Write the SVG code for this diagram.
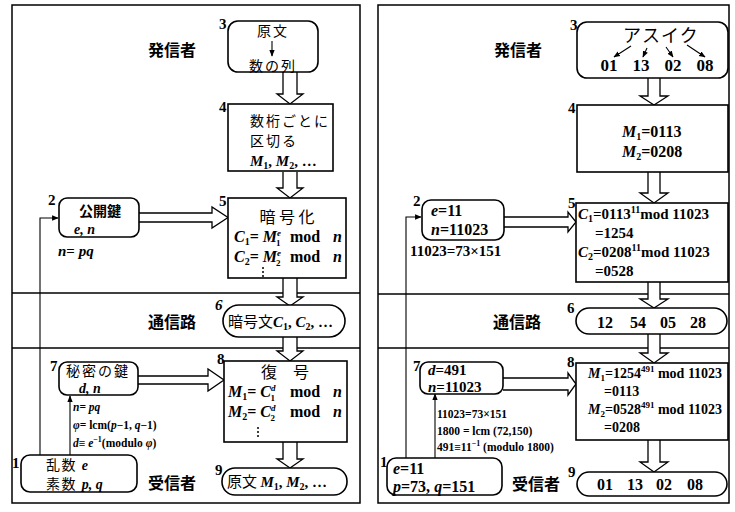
<svg xmlns="http://www.w3.org/2000/svg" width="735" height="512" viewBox="0 0 735 512">
<style>
.frame{fill:none;stroke:#000;stroke-width:1.5}
.div{stroke:#000;stroke-width:1.3}
.box{fill:#fff;stroke:#000;stroke-width:1.6}
.blk{fill:#fff;stroke:#000;stroke-width:1.3;stroke-linejoin:miter}
.thin{fill:none;stroke:#000;stroke-width:1.1}
.jp{font-family:"Noto Sans CJK JP",sans-serif;fill:#000}
.jb{font-family:"Noto Sans CJK JP",sans-serif;font-weight:bold;fill:#000}
.m{font-family:"Liberation Serif",serif;font-weight:bold;fill:#000}
.i{font-style:italic}
.num{font-family:"Liberation Serif",serif;font-weight:bold;font-size:15px;fill:#000}
.sm{font-family:"Liberation Serif",serif;font-weight:bold;font-size:11.5px;fill:#000}
</style>
<defs>
<marker id="ah" viewBox="0 0 10 10" refX="9" refY="5" markerWidth="6" markerHeight="6" orient="auto"><path d="M0,1 L10,5 L0,9 z"/></marker>
</defs>
<rect width="735" height="512" fill="#fff"/>
<g id="frames">
<rect class="frame" x="12" y="5" width="348" height="498"/>
<line class="div" x1="12" y1="293" x2="360" y2="293"/>
<line class="div" x1="12" y1="348" x2="360" y2="348"/>
<rect class="frame" x="378" y="5" width="351" height="498"/>
<line class="div" x1="378" y1="294" x2="729" y2="294"/>
<line class="div" x1="378" y1="348" x2="729" y2="348"/>
</g>
<g id="labels">
<text class="jb" x="148" y="56" font-size="16">発信者</text>
<text class="jb" x="148" y="328" font-size="16">通信路</text>
<text class="jb" x="148" y="489" font-size="16">受信者</text>
<text class="jb" x="494" y="56" font-size="16">発信者</text>
<text class="jb" x="493" y="328" font-size="16">通信路</text>
<text class="jb" x="512" y="490" font-size="16">受信者</text>
</g>
<g id="connectors">
<path class="blk" d="M283,72 V94 H277 L290,104 L303,94 H297 V72"/>
<path class="blk" d="M283,172 V188 H277 L290,198 L303,188 H297 V172"/>
<path class="blk" d="M283,278 V297 H277 L290,306 L303,297 H297 V278"/>
<path class="blk" d="M283,337 V351 H277 L290,361 L303,351 H297 V337"/>
<path class="blk" d="M283,442 V459 H277 L290,468 L303,459 H297 V442"/>
<path class="blk" d="M139,213 H212 V207 L228,217.5 L212,228 V222 H139"/>
<path class="blk" d="M138,376 H208 V369 L224,380 L208,391 V384 H138"/>
<path class="thin" d="M40,455 V218 H58" marker-end="url(#ah)"/>
<path class="thin" d="M70,455 V396" marker-end="url(#ah)"/>
<path class="blk" d="M648,78 V96 H640 L654,105 L668,96 H660 V78"/>
<path class="blk" d="M648,172 V193 H640 L654,203 L668,193 H660 V172"/>
<path class="blk" d="M648,282 V299 H640 L654,308 L668,299 H660 V282"/>
<path class="blk" d="M648,334 V353 H640 L654,363 L668,353 H660 V334"/>
<path class="blk" d="M648,440 V462 H640 L654,472 L668,462 H660 V440"/>
<path class="blk" d="M504,217 H568 V212 L576,222 L568,232 V227 H504"/>
<path class="blk" d="M503,378 H568 V373 L576,384 L568,395 V390 H503"/>
<path class="thin" d="M406,458 V217 H421" marker-end="url(#ah)"/>
<path class="thin" d="M435,458 V394" marker-end="url(#ah)"/>
</g>
<!-- Left panel nodes -->
<g id="L3">
<rect class="box" x="228" y="21" width="90" height="51" rx="10"/>
<text class="num" x="219" y="29">3</text>
<text class="jp" x="273" y="36" font-size="14" letter-spacing="2" text-anchor="middle">原文</text>
<line class="thin" x1="272" y1="41" x2="272" y2="56" marker-end="url(#ah)"/>
<text class="jp" x="273" y="71" font-size="14" letter-spacing="2" text-anchor="middle">数の列</text>
</g>
<g id="L4">
<rect class="box" x="228" y="104" width="105" height="67"/>
<text class="num" x="219" y="112">4</text>
<text class="jp" x="250" y="126" font-size="14" letter-spacing="2">数桁ごとに</text>
<text class="jp" x="250" y="146" font-size="14" letter-spacing="2">区切る</text>
<text class="m" x="250" y="166" font-size="15"><tspan class="i">M</tspan><tspan font-size="10" dy="3">1</tspan><tspan dy="-3">, </tspan><tspan class="i">M</tspan><tspan font-size="10" dy="3">2</tspan><tspan dy="-3">, …</tspan></text>
</g>
<g id="L2">
<rect class="box" x="59" y="198" width="80" height="39" rx="8"/>
<text class="num" x="48" y="205">2</text>
<text class="jb" x="79" y="216" font-size="14">公開鍵</text>
<text class="m i" x="74" y="234" font-size="14">e, n</text>
<text class="m" x="58" y="256" font-size="15"><tspan class="i">n</tspan>= <tspan class="i">pq</tspan></text>
</g>
<g id="L5">
<rect class="box" x="228" y="198" width="118" height="80"/>
<text class="num" x="219" y="206">5</text>
<text class="jp" x="287" y="223" font-size="16" text-anchor="middle">暗 号 化</text>
<text class="m" x="234" y="242" font-size="16"><tspan class="i">C</tspan><tspan font-size="10" dy="3">1</tspan><tspan dy="-3">= </tspan><tspan class="i">M</tspan><tspan font-size="9" class="i" dy="-6">e</tspan><tspan font-size="9" dx="-5" dy="10">1</tspan><tspan dy="-4" x="290">mod</tspan><tspan class="i" x="333">n</tspan></text>
<text class="m" x="234" y="262" font-size="16"><tspan class="i">C</tspan><tspan font-size="10" dy="3">2</tspan><tspan dy="-3">= </tspan><tspan class="i">M</tspan><tspan font-size="9" class="i" dy="-6">e</tspan><tspan font-size="9" dx="-5" dy="10">2</tspan><tspan dy="-4" x="290">mod</tspan><tspan class="i" x="333">n</tspan></text>
<circle cx="263" cy="268" r="1"/><circle cx="263" cy="272" r="1"/><circle cx="263" cy="276" r="1"/>
</g>
<g id="L6">
<rect class="box" x="223" y="305" width="122" height="32" rx="16"/>
<text class="num i" x="215" y="310">6</text>
<text class="m" x="228" y="327" font-size="15"><tspan class="jp" font-weight="normal">暗号文</tspan><tspan class="i">C</tspan><tspan font-size="10" dy="3">1</tspan><tspan dy="-3">, </tspan><tspan class="i">C</tspan><tspan font-size="10" dy="3">2</tspan><tspan dy="-3">, …</tspan></text>
</g>
<g id="L7">
<rect class="box" x="59" y="362" width="79" height="33" rx="8"/>
<text class="num" x="50" y="371">7</text>
<text class="jp" x="66" y="376" font-size="14" letter-spacing="2">秘密の鍵</text>
<text class="m i" x="79" y="393" font-size="14">d, n</text>
<text class="sm" x="73" y="411"><tspan class="i">n</tspan>= <tspan class="i">pq</tspan></text>
<text class="sm" x="73" y="429"><tspan class="i">φ</tspan>= lcm(<tspan class="i">p</tspan>−1, <tspan class="i">q</tspan>−1)</text>
<text class="sm" x="73" y="447"><tspan class="i">d</tspan>≡ <tspan class="i">e</tspan><tspan font-size="8" dy="-5">−1</tspan><tspan dy="5">(modulo </tspan><tspan class="i">φ</tspan>)</text>
</g>
<g id="L8">
<rect class="box" x="224" y="361" width="123" height="81"/>
<text class="num" x="217" y="364">8</text>
<text class="jp" x="285" y="378" font-size="16" text-anchor="middle">復　号</text>
<text class="m" x="228" y="397" font-size="16"><tspan class="i">M</tspan><tspan font-size="10" dy="3">1</tspan><tspan dy="-3">= </tspan><tspan class="i">C</tspan><tspan font-size="9" class="i" dy="-6">d</tspan><tspan font-size="9" dx="-5" dy="10">1</tspan><tspan dy="-4" x="290">mod</tspan><tspan class="i" x="333">n</tspan></text>
<text class="m" x="228" y="417" font-size="16"><tspan class="i">M</tspan><tspan font-size="10" dy="3">2</tspan><tspan dy="-3">= </tspan><tspan class="i">C</tspan><tspan font-size="9" class="i" dy="-6">d</tspan><tspan font-size="9" dx="-5" dy="10">2</tspan><tspan dy="-4" x="290">mod</tspan><tspan class="i" x="333">n</tspan></text>
<circle cx="258" cy="428" r="1"/><circle cx="258" cy="432" r="1"/><circle cx="258" cy="436" r="1"/>
</g>
<g id="L1">
<rect class="box" x="21" y="455" width="116" height="37" rx="9"/>
<text class="num" x="12" y="468">1</text>
<text class="jp" x="46" y="470" font-size="14" letter-spacing="1.5">乱数 <tspan class="m i" letter-spacing="0">e</tspan></text>
<text class="jp" x="46" y="489" font-size="14" letter-spacing="1.5">素数 <tspan class="m i" letter-spacing="0">p, q</tspan></text>
</g>
<g id="L9">
<rect class="box" x="222" y="468" width="125" height="27" rx="13"/>
<text class="num" x="215" y="475">9</text>
<text class="m" x="227" y="487" font-size="15"><tspan class="jp" font-weight="normal">原文 </tspan><tspan class="i">M</tspan><tspan font-size="10" dy="3">1</tspan><tspan dy="-3">, </tspan><tspan class="i">M</tspan><tspan font-size="10" dy="3">2</tspan><tspan dy="-3">, …</tspan></text>
</g>
<!-- Right panel nodes -->
<g id="R3">
<rect class="box" x="577" y="22" width="151" height="56" rx="10"/>
<text class="num" x="570" y="30">3</text>
<text class="jp" x="623" y="42" font-size="18" letter-spacing="1">アスイク</text>
<line class="thin" x1="631" y1="46" x2="614" y2="57" marker-end="url(#ah)"/>
<line class="thin" x1="647" y1="48" x2="643" y2="57" marker-end="url(#ah)"/>
<line class="thin" x1="666" y1="47" x2="673" y2="57" marker-end="url(#ah)"/>
<line class="thin" x1="687" y1="45" x2="705" y2="57" marker-end="url(#ah)"/>
<text class="m" x="609" y="71" font-size="17" text-anchor="middle">01</text>
<text class="m" x="641" y="71" font-size="17" text-anchor="middle">13</text>
<text class="m" x="673" y="71" font-size="17" text-anchor="middle">02</text>
<text class="m" x="705" y="71" font-size="17" text-anchor="middle">08</text>
</g>
<g id="R4">
<rect class="box" x="577" y="105" width="151" height="67"/>
<text class="num" x="568" y="113">4</text>
<text class="m" x="622" y="137" font-size="16"><tspan class="i">M</tspan><tspan font-size="10" dy="3">1</tspan><tspan dy="-3">=0113</tspan></text>
<text class="m" x="622" y="157" font-size="16"><tspan class="i">M</tspan><tspan font-size="10" dy="3">2</tspan><tspan dy="-3">=0208</tspan></text>
</g>
<g id="R2">
<rect class="box" x="422" y="200" width="82" height="40" rx="9"/>
<text class="num" x="413" y="206">2</text>
<text class="m" x="431" y="216" font-size="16"><tspan class="i">e</tspan>=11</text>
<text class="m" x="431" y="235" font-size="16"><tspan class="i">n</tspan>=11023</text>
<text class="m" x="410" y="256" font-size="15">11023=73×151</text>
</g>
<g id="R5">
<rect class="box" x="576" y="203" width="152" height="79"/>
<text class="num" x="568" y="208">5</text>
<text class="m" x="578" y="219" font-size="15"><tspan class="i">C</tspan><tspan font-size="10" dy="3">1</tspan><tspan dy="-3">=0113</tspan><tspan font-size="10" dy="-6">11</tspan><tspan dy="6">mod 11023</tspan></text>
<text class="m" x="595" y="238" font-size="15">=1254</text>
<text class="m" x="578" y="257" font-size="15"><tspan class="i">C</tspan><tspan font-size="10" dy="3">2</tspan><tspan dy="-3">=0208</tspan><tspan font-size="10" dy="-6">11</tspan><tspan dy="6">mod 11023</tspan></text>
<text class="m" x="595" y="276" font-size="15">=0528</text>
</g>
<g id="R6">
<rect class="box" x="576" y="308" width="151" height="26" rx="13"/>
<text class="num" x="567" y="313">6</text>
<text class="m" x="605" y="328" font-size="16" text-anchor="middle">12</text>
<text class="m" x="638" y="328" font-size="16" text-anchor="middle">54</text>
<text class="m" x="668" y="328" font-size="16" text-anchor="middle">05</text>
<text class="m" x="698" y="328" font-size="16" text-anchor="middle">28</text>
</g>
<g id="R7">
<rect class="box" x="420" y="362" width="83" height="32" rx="8"/>
<text class="num" x="413" y="371">7</text>
<text class="m" x="428" y="375" font-size="15"><tspan class="i">d</tspan>=491</text>
<text class="m" x="428" y="392" font-size="15"><tspan class="i">n</tspan>=11023</text>
<text class="sm" x="437" y="418" font-size="11">11023=73×151</text>
<text class="sm" x="437" y="435" font-size="11">1800 = lcm (72,150)</text>
<text class="sm" x="437" y="451" font-size="11">491≡11<tspan font-size="8" dy="-5">−1</tspan><tspan dy="5"> (modulo 1800)</tspan></text>
</g>
<g id="R8">
<rect class="box" x="576" y="363" width="152" height="77"/>
<text class="num" x="567" y="367">8</text>
<text class="m" x="588" y="378" font-size="14"><tspan class="i">M</tspan><tspan font-size="9" dy="3">1</tspan><tspan dy="-3">=1254</tspan><tspan font-size="9" dy="-6">491</tspan><tspan dy="6"> mod 11023</tspan></text>
<text class="m" x="604" y="396" font-size="14">=0113</text>
<text class="m" x="588" y="414" font-size="14"><tspan class="i">M</tspan><tspan font-size="9" dy="3">2</tspan><tspan dy="-3">=0528</tspan><tspan font-size="9" dy="-6">491</tspan><tspan dy="6"> mod 11023</tspan></text>
<text class="m" x="604" y="432" font-size="14">=0208</text>
</g>
<g id="R1">
<rect class="box" x="387" y="458" width="115" height="37" rx="9"/>
<text class="num" x="380" y="467">1</text>
<text class="m" x="393" y="474" font-size="16"><tspan class="i">e</tspan>=11</text>
<text class="m" x="393" y="492" font-size="16"><tspan class="i">p</tspan>=73, <tspan class="i">q</tspan>=151</text>
</g>
<g id="R9">
<rect class="box" x="577" y="472" width="150" height="24" rx="12"/>
<text class="num" x="568" y="477">9</text>
<text class="m" x="605" y="490" font-size="16" text-anchor="middle">01</text>
<text class="m" x="635" y="490" font-size="16" text-anchor="middle">13</text>
<text class="m" x="664" y="490" font-size="16" text-anchor="middle">02</text>
<text class="m" x="695" y="490" font-size="16" text-anchor="middle">08</text>
</g>
</svg>
